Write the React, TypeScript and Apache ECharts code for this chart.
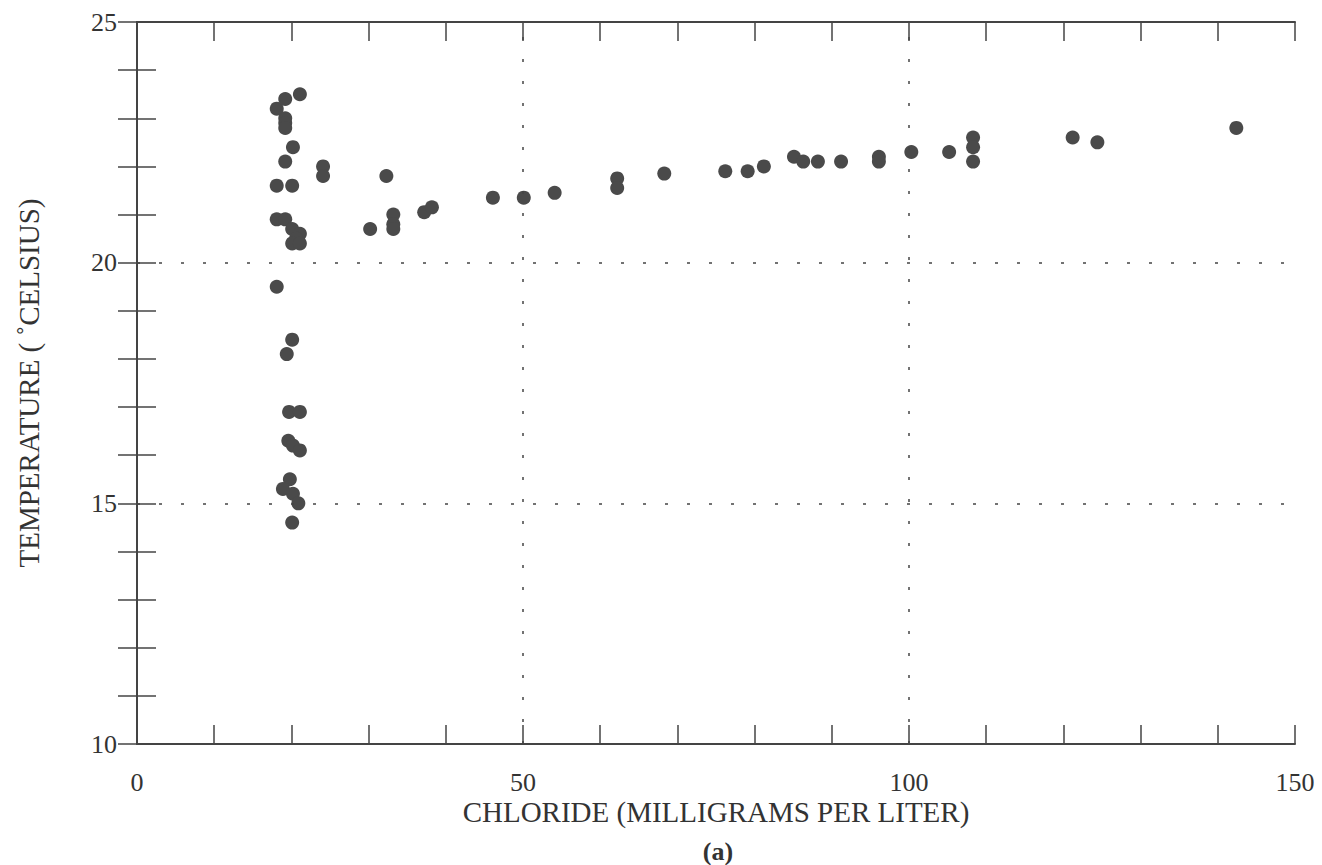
import React, { useEffect, useRef } from "react";
import * as echarts from "echarts";

const chloride = [
  18.1, 19.2, 21.1, 19.2, 19.2, 19.2, 20.2, 19.2, 24.1, 24.1, 18.1, 20.1, 18.1, 19.2, 20.1, 21.1,
  20.6, 20.1, 21.1, 18.1, 20.1, 19.4, 19.7, 21.1, 19.6, 20.2, 21.1, 19.8, 18.9, 20.2, 20.9, 20.1,
  32.3, 30.2, 33.2, 33.2, 33.2, 37.2, 38.2, 46.1, 50.1, 54.1, 62.2, 62.2, 68.3, 76.2, 79.1, 81.2,
  85.1, 86.3, 88.2, 91.2, 96.1, 96.1, 100.3, 105.2, 108.3, 108.3, 108.3, 121.2, 124.4, 142.4,
];
const temperature = [
  23.2, 23.4, 23.5, 23.0, 22.9, 22.8, 22.4, 22.1, 22.0, 21.8, 21.6, 21.6, 20.9, 20.9, 20.7, 20.6,
  20.5, 20.4, 20.4, 19.5, 18.4, 18.1, 16.9, 16.9, 16.3, 16.2, 16.1, 15.5, 15.3, 15.2, 15.0, 14.6,
  21.8, 20.7, 21.0, 20.8, 20.7, 21.05, 21.15, 21.35, 21.35, 21.45, 21.75, 21.55, 21.85, 21.9, 21.9, 22.0,
  22.2, 22.1, 22.1, 22.1, 22.2, 22.1, 22.3, 22.3, 22.6, 22.4, 22.1, 22.6, 22.5, 22.8,
];
const gridX = [50, 100];
const gridY = [15, 20];

const xTitle = "CHLORIDE (MILLIGRAMS PER LITER)";
const yTitle = "TEMPERATURE ( \u02DACELSIUS)";
const caption = "(a)";

export default function App() {
  const ref = useRef<HTMLDivElement>(null);
  useEffect(() => {
    if (!ref.current) return;
    const chart = echarts.init(ref.current, null, { renderer: "svg" });
    const font = "Liberation Serif";
    const axisColor = "#444";
    const common = {
      axisLine: { show: true, lineStyle: { color: axisColor, width: 2 } },
      axisTick: { show: true, inside: true, length: 19, lineStyle: { color: axisColor, width: 1.5 } },
      splitLine: { show: false },
    };
    chart.setOption({
      animation: false,
      backgroundColor: "#fff",
      grid: { left: 137, right: 27, top: 22, bottom: 121 },
      xAxis: [
        {
          type: "value", min: 0, max: 150, interval: 10, position: "bottom", ...common,
          axisLabel: {
            margin: 25, fontSize: 26, color: "#333", fontFamily: font,
            formatter: (v: number) => (v % 50 === 0 ? String(v) : ""),
          },
        },
        { type: "value", min: 0, max: 150, interval: 10, position: "top", ...common, axisLabel: { show: false } },
      ],
      yAxis: [
        {
          type: "value", min: 10, max: 25, interval: 1, position: "left", ...common,
          axisLabel: {
            margin: 20, fontSize: 26, color: "#333", fontFamily: font,
            formatter: (v: number) => (v % 5 === 0 ? String(v) : ""),
          },
        },
        { type: "value", min: 10, max: 25, interval: 1, position: "right", ...common, axisLabel: { show: false } },
      ],
      graphic: [
        {
          type: "text", x: 716, y: 812,
          style: { text: xTitle, font: `29px ${font}`, fill: "#333", align: "center", verticalAlign: "middle" },
        },
        {
          type: "text", x: 29, y: 383, rotation: Math.PI / 2,
          style: { text: yTitle, font: `29px ${font}`, fill: "#333", align: "center", verticalAlign: "middle" },
        },
        {
          type: "text", x: 718, y: 851,
          style: { text: caption, font: `bold 26px ${font}`, fill: "#333", align: "center", verticalAlign: "middle" },
        },
      ],
      series: [
        {
          type: "scatter",
          xAxisIndex: 0, yAxisIndex: 0,
          symbol: "circle", symbolSize: 14,
          itemStyle: { color: "#4a4a4a", opacity: 1 },
          data: chloride.map((c, i) => [c, temperature[i]]),
          markLine: {
            silent: true, symbol: ["none", "none"], label: { show: false },
            lineStyle: { type: [3, 19], color: "#444", width: 1.5 },
            data: [...gridX.map((v) => ({ xAxis: v })), ...gridY.map((v) => ({ yAxis: v }))],
          },
          z: 3,
        },
      ],
    });
    return () => chart.dispose();
  }, []);
  return <div ref={ref} style={{ position: "fixed", left: 0, top: 0, width: 1322, height: 865 }} />;
}
